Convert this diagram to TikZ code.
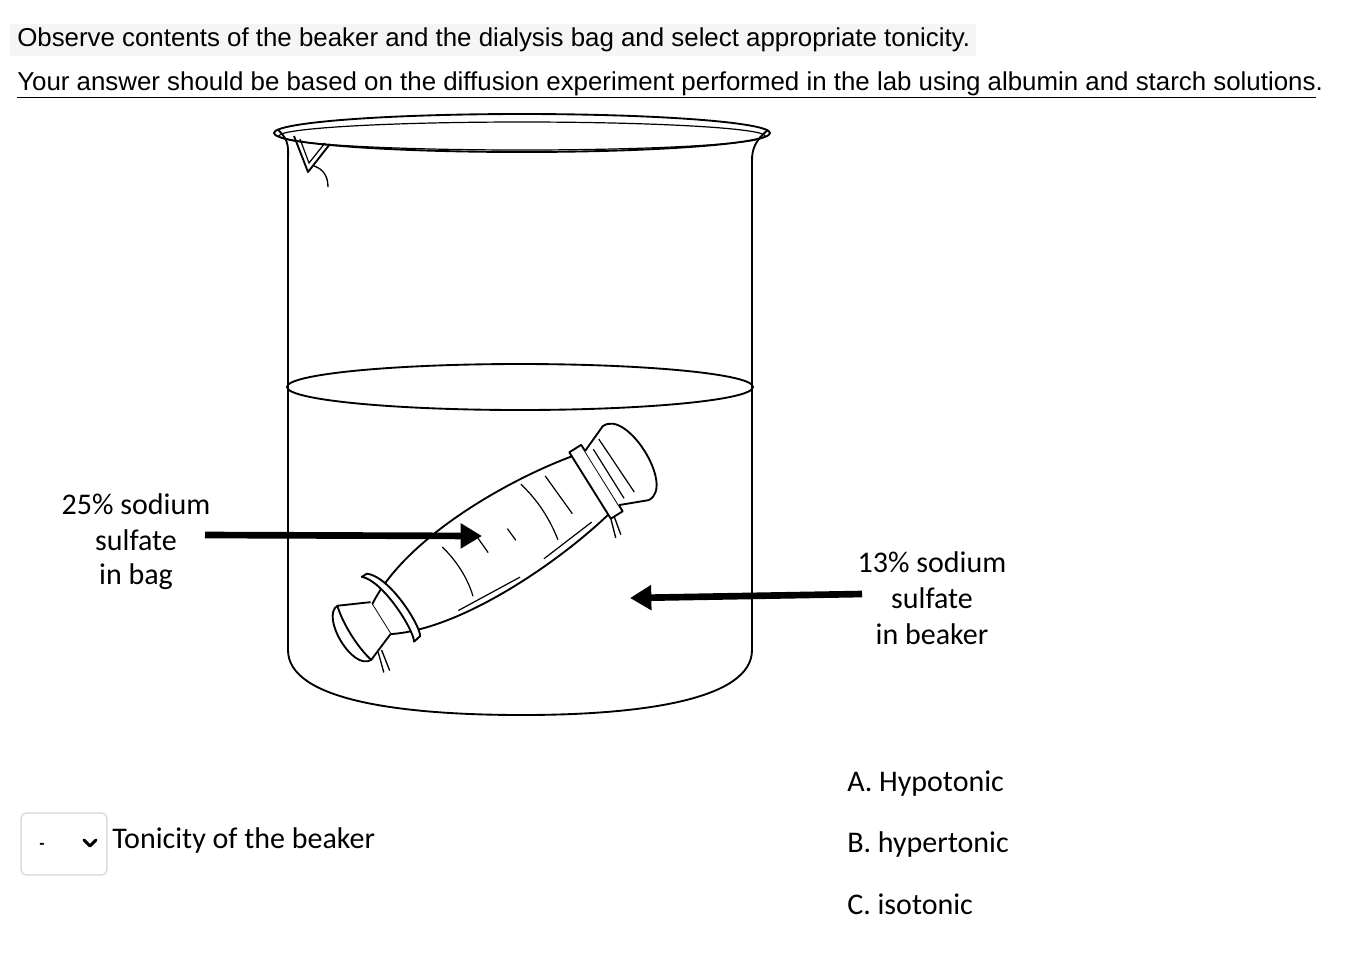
\documentclass[tikz,border=0pt]{standalone}
\usepackage{fontspec}
\setmainfont{Liberation Sans}
\newfontfamily\carlitofont{Carlito}
\usetikzlibrary{arrows.meta}
\begin{document}
\begin{tikzpicture}[x=0.75pt,y=-0.75pt,
  lab/.style={font=\carlitofont\fontsize{22.5}{27}\selectfont,align=center,inner sep=0},
  opt/.style={font=\carlitofont\fontsize{22.5}{27}\selectfont,anchor=west,inner sep=0},
  ln/.style={line width=1.4pt,line join=round},
  arr/.style={line width=5pt,-{Triangle[length=16pt,width=18pt]}}]
\useasboundingbox (0,0) rectangle (1348,958);
\fill[gray!8] (10,24) rectangle (976,56);
\node[anchor=west,inner sep=0,font=\fontsize{19.4}{22}\selectfont] (t1) at (17,40) {Observe contents of the beaker and the dialysis bag and select appropriate tonicity.};
\node[anchor=west,inner sep=0,font=\fontsize{19.4}{22}\selectfont] (t2) at (17,85) {\underline{Your answer should be based on the diffusion experiment performed in the lab using albumin and starch solutions}.};
% beaker
\draw[ln] (522,133) ellipse (248 and 19);
\draw[line width=0.9pt] (522,136) ellipse (243 and 14);
\draw[ln] (278,130) .. controls (290,140) and (288,150) .. (288,160) -- (288,650) .. controls (288,700) and (400,715) .. (522,715) .. controls (640,715) and (752,700) .. (752,650) -- (752,160) .. controls (752,150) and (755,140) .. (768,130);
\draw[ln] (294,136) -- (308,172) -- (330,144);
\draw[line width=0.9pt] (300,139) -- (309,163) -- (325,143);
\draw[line width=1pt] (314,166) .. controls (323,169) and (328,176) .. (328,187);
\draw[ln] (520,387) ellipse (233 and 23);
% bag
\begin{scope}[shift={(490,548)},rotate=32]
\begin{scope}[yscale=1.45]
\draw[ln,fill=white] (-130,-10) .. controls (-60,-40) and (80,-32) .. (140,-20) -- (140,20) .. controls (80,32) and (-60,40) .. (-130,14) -- cycle;
\draw[ln,fill=white] (-130,-12) -- (-160,-22) .. controls (-180,-22) and (-182,22) .. (-160,22) -- (-130,14);
\draw[ln] (-160,-22) .. controls (-165,-10) and (-165,10) .. (-160,22);
\draw[ln,fill=white] (-118,-30) .. controls (-100,-20) and (-100,20) .. (-106,26) -- (-114,27) .. controls (-108,20) and (-108,-20) .. (-124,-30) -- cycle;
\draw[ln,fill=white] (118,-27) -- (132,-27) -- (132,27) -- (118,27) -- cycle;
\draw[ln,fill=white] (132,-22) -- (160,-30) .. controls (190,-32) and (190,32) .. (160,30) -- (132,22);
\draw[line width=0.9pt] (140,-20)--(140,20) (150,-24)--(152,20);
\draw[line width=0.9pt] (-40,-18) .. controls (-35,-5) and (-35,10) .. (-40,22);
\draw[line width=0.9pt] (-5,-10)--(-4,2) (25,-5)--(26,5) (60,-26) .. controls (66,-10) and (66,5) .. (62,20) (85,-22)--(88,10);
\draw[line width=0.9pt] (-60,25) -- (10,28) (40,26) -- (100,22);
\draw[line width=1pt] (-150,20) -- (-156,34) (-146,20) -- (-150,35) (118,27)--(112,40) (122,27)--(118,40);
\end{scope}
\end{scope}
% labels and arrows
\node[lab] (l1) at (136,504) {25\% sodium};
\node[lab] (l2) at (136,540) {sulfate};
\node[lab] (l3) at (136,577) {in bag};
\coordinate (a1s) at (205,535);
\coordinate (a1e) at (482,536);
\draw[arr] (a1s) -- (a1e);
\node[lab] (r1) at (932,562) {13\% sodium};
\node[lab] (r2) at (932,598) {sulfate};
\node[lab] (r3) at (932,634) {in beaker};
\coordinate (a2s) at (862,594);
\coordinate (a2e) at (630,598);
\draw[arr] (a2s) -- (a2e);
% dropdown
\draw[gray!35,rounded corners=4pt,line width=0.8pt] (21,813) rectangle (107,875);
\node[inner sep=0,font=\fontsize{12}{14}\selectfont\bfseries] (dash) at (42,846) {-};
\draw[line width=2.2pt,line cap=round,line join=round] (84,840) -- (90,846) -- (96,840);
\node[opt] (q) at (112,840) {Tonicity of the beaker};
\node[opt] (oa) at (847,784) {A. Hypotonic};
\node[opt] (ob) at (847,844) {B. hypertonic};
\node[opt] (oc) at (847,904) {C. isotonic};
\end{tikzpicture}
\end{document}
